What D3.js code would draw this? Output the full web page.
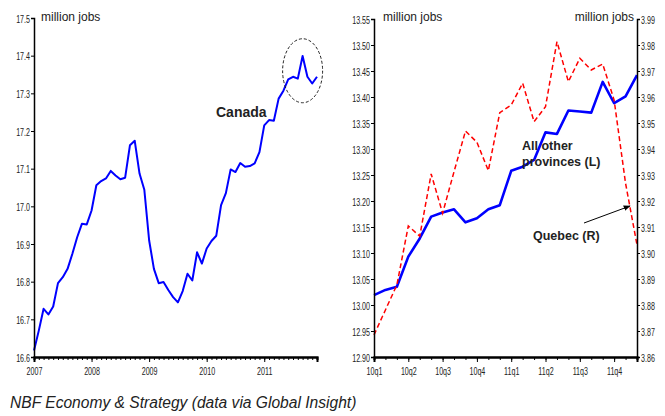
<!DOCTYPE html>
<html>
<head>
<meta charset="utf-8">
<script src="https://cdn.jsdelivr.net/npm/d3@7"></script>
<style>
  body { margin: 0; background: #fff; }
  svg { display: block; }
</style>
</head>
<body>
<svg id="chart" width="665" height="416"></svg>
<script>
// Canada, monthly employment Jan 2007 - Dec 2011 (million jobs)
const canada = [
  16.617, 16.670, 16.728, 16.713, 16.734, 16.796, 16.812, 16.834, 16.874, 16.918, 16.954, 16.952,
  16.989, 17.056, 17.067, 17.074, 17.094, 17.082, 17.072, 17.076, 17.162, 17.174, 17.087, 17.044,
  16.910, 16.834, 16.796, 16.799, 16.778, 16.759, 16.745, 16.775, 16.821, 16.803, 16.878, 16.848,
  16.888, 16.908, 16.922, 17.003, 17.035, 17.098, 17.091, 17.115, 17.105, 17.107, 17.114, 17.144,
  17.215, 17.229, 17.227, 17.286, 17.307, 17.337, 17.344, 17.339, 17.399, 17.344, 17.326, 17.344
];
const yearLabels = ["2007", "2008", "2009", "2010", "2011"];
const canadaTicks = [16.6, 16.7, 16.8, 16.9, 17.0, 17.1, 17.2, 17.3, 17.4, 17.5];

// Monthly employment Jan 2010 - Dec 2011
const otherProvinces = [
  13.019, 13.029, 13.035, 13.093, 13.128, 13.170, 13.178, 13.184, 13.159, 13.167, 13.184, 13.192,
  13.258, 13.266, 13.279, 13.332, 13.329, 13.374, 13.372, 13.370, 13.429, 13.388, 13.401, 13.442
];
const quebec = [
  3.8685, 3.8781, 3.8877, 3.9104, 3.9065, 3.9304, 3.9153, 3.9313, 3.9469, 3.9426, 3.9317, 3.9540,
  3.9569, 3.9653, 3.9505, 3.9563, 3.9813, 3.9659, 3.9749, 3.9704, 3.9727, 3.9588, 3.9268, 3.9031
];
const quarterLabels = ["10q1", "10q2", "10q3", "10q4", "11q1", "11q2", "11q3", "11q4"];
const otherTicks = [12.90, 12.95, 13.00, 13.05, 13.10, 13.15, 13.20, 13.25, 13.30, 13.35, 13.40, 13.45, 13.50, 13.55];
const quebecTicks = [3.86, 3.87, 3.88, 3.89, 3.90, 3.91, 3.92, 3.93, 3.94, 3.95, 3.96, 3.97, 3.98, 3.99];

const FONT = "'Liberation Sans', Arial, Helvetica, sans-serif";
const TICK_SIZE = 11.5;   // tick label font size
const SQUEEZE = 0.62;     // narrow tick numerals
const svg = d3.select("#chart");

// shared helpers ---------------------------------------------------------
function styleAxis(g, lineWidth) {
  g.select(".domain").attr("stroke", "#000").attr("stroke-width", lineWidth);
  g.selectAll(".tick line").attr("stroke", "#000").attr("stroke-width", 1);
  g.selectAll("text").attr("font-family", FONT).attr("font-size", TICK_SIZE).attr("fill", "#222");
}
function squeezeY(g) {
  // condensed numerals anchored next to the tick
  g.selectAll(".tick text").each(function () {
    const t = d3.select(this);
    const x = +t.attr("x");
    t.attr("x", 0).attr("dy", "0.35em")
     .attr("transform", `translate(${x},0) scale(${SQUEEZE},1)`);
  });
}
function squeezeX(g, baselineOffset) {
  g.selectAll(".tick text").attr("y", 0).attr("dy", 0)
    .attr("transform", `translate(0,${baselineOffset}) scale(${SQUEEZE},1)`);
}
function label(x, y, text, opts = {}) {
  svg.append("text").attr("x", x).attr("y", y)
    .attr("font-family", FONT)
    .attr("font-size", opts.size || 12)
    .attr("font-weight", opts.weight || "normal")
    .attr("font-style", opts.style || "normal")
    .attr("text-anchor", opts.anchor || "start")
    .attr("fill", opts.fill || "#222")
    .text(text);
}

// ---------------- left panel: Canada ----------------
const plotTop = 18, plotBottom = 357;
const xL = d3.scaleLinear().domain([0, canada.length - 1]).range([34, 317]);
const yL = d3.scaleLinear().domain([16.6, 17.5]).range([plotBottom, plotTop]);

svg.append("path")
  .datum(canada)
  .attr("fill", "none")
  .attr("stroke", "#0000ff")
  .attr("stroke-width", 2)
  .attr("stroke-linejoin", "round")
  .attr("d", d3.line().x((d, i) => xL(i)).y(d => yL(d)));

// monthly minor ticks
svg.append("g").attr("transform", `translate(0,${plotBottom})`)
  .call(d3.axisBottom(xL).tickValues(d3.range(0, canada.length)).tickSize(3).tickFormat(""))
  .call(g => styleAxis(g, 2));
// year ticks with labels
svg.append("g").attr("transform", `translate(0,${plotBottom})`)
  .call(d3.axisBottom(xL).tickValues(yearLabels.map((_, i) => i * 12)).tickSize(5)
        .tickFormat((d, i) => yearLabels[i]))
  .call(g => { styleAxis(g, 2); squeezeX(g, 18); });

svg.append("g").attr("transform", `translate(${xL(0)},0)`)
  .call(d3.axisLeft(yL).tickValues(canadaTicks).tickSize(3).tickPadding(1)
        .tickFormat(d3.format(".1f")))
  .call(g => { styleAxis(g, 1.5); squeezeY(g); });

// highlight of the latest months
svg.append("ellipse")
  .attr("cx", xL(56)).attr("cy", yL(17.36)).attr("rx", 20).attr("ry", 32)
  .attr("fill", "none").attr("stroke", "#222").attr("stroke-width", 1)
  .attr("stroke-dasharray", "3,2");

label(41, 21, "million jobs", { size: 12 });
label(216, 117, "Canada", { size: 14, weight: "bold" });

// ---------------- right panel: Quebec vs rest ----------------
const xR = d3.scaleLinear().domain([0, otherProvinces.length - 1]).range([374, 637]);
const yRL = d3.scaleLinear().domain([12.90, 13.55]).range([plotBottom, 19]);
const yRR = d3.scaleLinear().domain([3.86, 3.99]).range([plotBottom, 19]);

svg.append("path")
  .datum(otherProvinces)
  .attr("fill", "none")
  .attr("stroke", "#0000ff")
  .attr("stroke-width", 2.6)
  .attr("stroke-linejoin", "round")
  .attr("d", d3.line().x((d, i) => xR(i)).y(d => yRL(d)));

svg.append("path")
  .datum(quebec)
  .attr("fill", "none")
  .attr("stroke", "#ff0000")
  .attr("stroke-width", 1.5)
  .attr("stroke-dasharray", "5,3")
  .attr("d", d3.line().x((d, i) => xR(i)).y(d => yRR(d)));

svg.append("g").attr("transform", `translate(0,${plotBottom})`)
  .call(d3.axisBottom(xR).tickValues(d3.range(0, otherProvinces.length)).tickSize(3).tickFormat(""))
  .call(g => styleAxis(g, 2));
svg.append("g").attr("transform", `translate(0,${plotBottom})`)
  .call(d3.axisBottom(xR).tickValues(quarterLabels.map((_, i) => i * 3)).tickSize(5)
        .tickFormat((d, i) => quarterLabels[i]))
  .call(g => { styleAxis(g, 2); squeezeX(g, 18); });

svg.append("g").attr("transform", `translate(${xR(0)},0)`)
  .call(d3.axisLeft(yRL).tickValues(otherTicks).tickSize(3).tickPadding(1)
        .tickFormat(d3.format(".2f")))
  .call(g => { styleAxis(g, 1.5); squeezeY(g); });

svg.append("g").attr("transform", `translate(${xR(otherProvinces.length - 1)},0)`)
  .call(d3.axisRight(yRR).tickValues(quebecTicks).tickSize(3).tickPadding(1)
        .tickFormat(d3.format(".2f")))
  .call(g => { styleAxis(g, 1.5); squeezeY(g); });

label(383, 21, "million jobs", { size: 12 });
label(634, 21, "million jobs", { size: 12, anchor: "end" });

label(522, 150, "All other", { size: 12.5, weight: "bold" });
label(522, 166, "provinces (L)", { size: 12.5, weight: "bold" });
label(533, 240, "Quebec (R)", { size: 12.5, weight: "bold" });

// pointer from the Quebec label to its line
svg.append("defs").append("marker")
  .attr("id", "head").attr("viewBox", "0 0 10 10")
  .attr("refX", 9).attr("refY", 5)
  .attr("markerWidth", 7).attr("markerHeight", 7)
  .attr("orient", "auto")
  .append("path").attr("d", "M0,1 L10,5 L0,9 Z").attr("fill", "#000");
svg.append("line")
  .attr("x1", 584).attr("y1", 223).attr("x2", 630).attr("y2", 206)
  .attr("stroke", "#000").attr("stroke-width", 1)
  .attr("marker-end", "url(#head)");

// source line
label(10, 408, "NBF Economy & Strategy (data via Global Insight)", { size: 15.6, style: "italic" });
</script>
</body>
</html>
